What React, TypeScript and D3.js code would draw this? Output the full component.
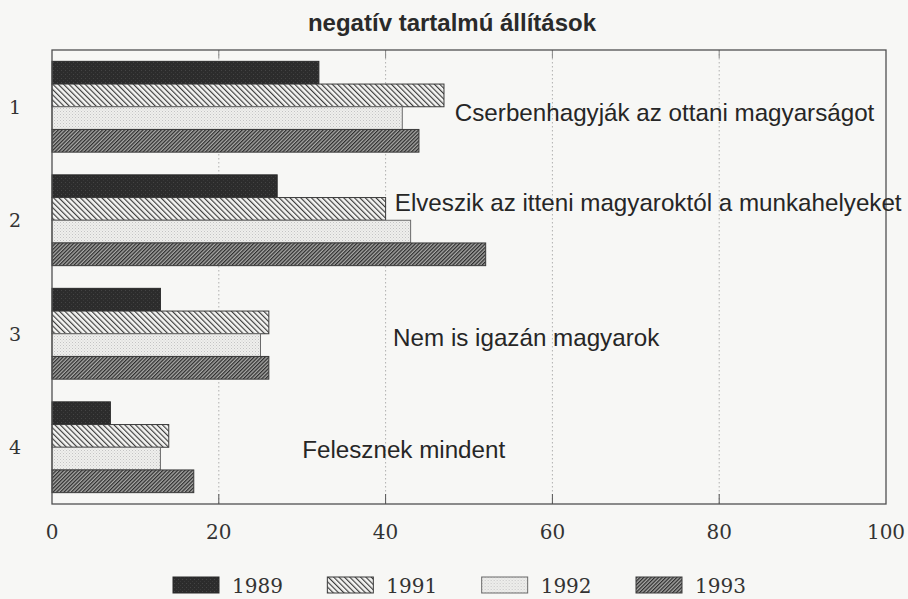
import React from "react";
import * as d3 from "d3";

const categories = ["1", "2", "3", "4"];
const years = ["1989", "1991", "1992", "1993"];
const values1989 = [32, 27, 13, 7];
const values1991 = [47, 40, 26, 14];
const values1992 = [42, 43, 25, 13];
const values1993 = [44, 52, 26, 17];
const xTicks = [0, 20, 40, 60, 80, 100];
const title = "negatív tartalmú állítások";
const annotationTexts = [
  "Cserbenhagyják az ottani magyarságot",
  "Elveszik az itteni magyaroktól a munkahelyeket",
  "Nem is igazán magyarok",
  "Felesznek mindent",
];
const annotationX = [48.3, 41.1, 40.9, 30.0];
const annotationBandPos = [0.56, 0.31, 0.54, 0.53];

const W = 908;
const H = 599;
const M = { left: 52, right: 22, top: 50, bottom: 95 };

const series = [values1989, values1991, values1992, values1993];
const fills = ["url(#p1989)", "url(#p1991)", "url(#p1992)", "url(#p1993)"];
const strokes = ["#2a2a2a", "#3a3a3a", "#6a6a6a", "#3a3a3a"];

export default function App() {
  const x = d3.scaleLinear().domain([0, 100]).range([M.left, W - M.right]);
  const y = d3
    .scaleBand<string>()
    .domain(categories)
    .range([M.top, H - M.bottom])
    .paddingInner(0.2)
    .paddingOuter(0.1);
  const sub = d3.scaleBand<string>().domain(years).range([0, y.bandwidth()]);
  const [y0, y1] = [M.top, H - M.bottom];
  const serif = "'DejaVu Serif', serif";
  const sans = "'Liberation Sans', Arial, sans-serif";

  const legendX = d3.scalePoint<string>().domain(years).range([173, 636]);

  return (
    <div style={{ position: "absolute", left: 0, top: 0 }}>
      <svg width={W} height={H} style={{ display: "block", background: "#f7f7f5" }}>
        <defs>
          <pattern id="p1989" patternUnits="userSpaceOnUse" width="4" height="4">
            <rect width="4" height="4" fill="#2c2c2c" />
            <rect x="1" y="2" width="1" height="1" fill="#444" />
            <rect x="3" y="0" width="1" height="1" fill="#3a3a3a" />
          </pattern>
          <pattern id="p1991" patternUnits="userSpaceOnUse" width="3.8" height="10" patternTransform="rotate(-45)">
            <rect width="3.8" height="10" fill="#f4f4f2" />
            <line x1="0.6" y1="0" x2="0.6" y2="10" stroke="#333" strokeWidth="1.1" />
          </pattern>
          <pattern id="p1992" patternUnits="userSpaceOnUse" width="3" height="3">
            <rect width="3" height="3" fill="#efefed" />
            <rect x="0" y="0" width="1" height="1" fill="#c4c4c4" />
            <rect x="1.5" y="1.5" width="1" height="1" fill="#d0d0d0" />
          </pattern>
          <pattern id="p1993" patternUnits="userSpaceOnUse" width="2.6" height="10" patternTransform="rotate(45)">
            <rect width="2.6" height="10" fill="#a8a8a6" />
            <line x1="0.6" y1="0" x2="0.6" y2="10" stroke="#2e2e2e" strokeWidth="1.3" />
          </pattern>
        </defs>

        <text x={452} y={31} textAnchor="middle" fontFamily={sans} fontWeight="bold" fontSize={24} fill="#2a2a2a">
          {title}
        </text>

        {/* gridlines */}
        {xTicks.slice(1, -1).map((t) => (
          <g key={"g" + t}>
            <line x1={x(t)} x2={x(t)} y1={y0} y2={y1} stroke="#b0b0b0" strokeWidth={1} strokeDasharray="1.5,2.5" />
            <line x1={x(t)} x2={x(t)} y1={y1 - 10} y2={y1} stroke="#555" strokeWidth={1} />
            <line x1={x(t)} x2={x(t)} y1={y0} y2={y0 + 8} stroke="#888" strokeWidth={1} />
          </g>
        ))}

        {/* bars */}
        {categories.map((c, ci) =>
          years.map((yr, si) => (
            <rect
              key={c + yr}
              x={x(0)}
              y={(y(c) as number) + (sub(yr) as number)}
              width={x(series[si][ci]) - x(0)}
              height={sub.bandwidth()}
              fill={fills[si]}
              stroke={strokes[si]}
              strokeWidth={1}
            />
          ))
        )}

        {/* frame */}
        <rect x={x(0)} y={y0} width={x(100) - x(0)} height={y1 - y0} fill="none" stroke="#505050" strokeWidth={1.3} />

        {/* category labels */}
        {categories.map((c) => (
          <text key={"c" + c} x={15} y={(y(c) as number) + y.bandwidth() / 2 + 7} textAnchor="middle" fontFamily={serif} fontSize={19} fill="#333">
            {c}
          </text>
        ))}

        {/* annotations */}
        {categories.map((c, ci) => (
          <text
            key={"a" + c}
            x={x(annotationX[ci])}
            y={(y(c) as number) + y.bandwidth() * annotationBandPos[ci]}
            dominantBaseline="central"
            fontFamily={sans}
            fontSize={24.2}
            fill="#262626"
          >
            {annotationTexts[ci]}
          </text>
        ))}

        {/* x tick labels */}
        {xTicks.map((t) => (
          <text key={"t" + t} x={x(t)} y={539} textAnchor="middle" fontFamily={serif} fontSize={20} fill="#333">
            {t}
          </text>
        ))}

        {/* legend */}
        {years.map((yr, si) => (
          <g key={"l" + yr} transform={`translate(${legendX(yr)},577)`}>
            <rect width={46} height={16} fill={fills[si]} stroke={strokes[si]} strokeWidth={1} />
            <text x={59} y={16} fontFamily={serif} fontSize={20} fill="#333">
              {yr}
            </text>
          </g>
        ))}
      </svg>
    </div>
  );
}
